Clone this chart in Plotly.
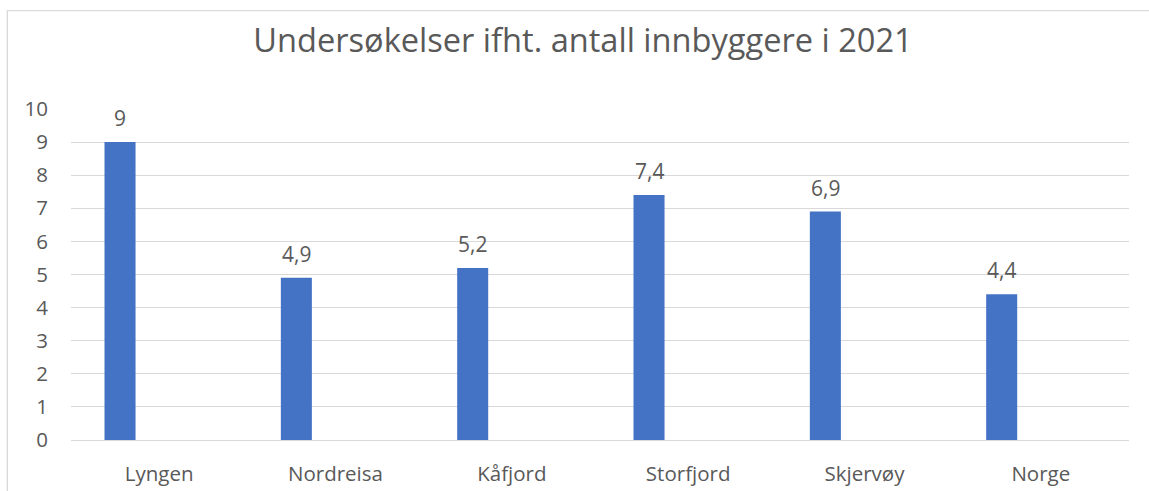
import plotly.graph_objects as go

categories = ["Lyngen", "Nordreisa", "Kåfjord", "Storfjord", "Skjervøy", "Norge"]
values = [9, 4.9, 5.2, 7.4, 6.9, 4.4]
value_labels = ["9", "4,9", "5,2", "7,4", "6,9", "4,4"]
y_ticks = list(range(0, 11))

W, H = 1149, 491
L, R, T, B = 70.7, 20.3, 109.3, 51.0
plot_w = W - L - R
plot_h = H - T - B

font_family = "Open Sans, Liberation Sans, sans-serif"
text_color = "#595959"
grid_color = "#D9D9D9"
bar_width = 0.176
bar_offset = -0.31

fig = go.Figure()
fig.add_trace(go.Bar(
    x=categories,
    y=values,
    width=bar_width,
    offset=bar_offset,
    marker=dict(color="#4472C4", line=dict(width=0)),
    hoverinfo="skip",
))

# value labels above each bar
for cat, val, lab in zip(categories, values, value_labels):
    fig.add_annotation(
        x=cat, y=val, text=lab, showarrow=False,
        xshift=(bar_offset + bar_width / 2) * plot_w / 6,
        yshift=24, yanchor="middle", xanchor="center",
        font=dict(family=font_family, size=21, color=text_color),
    )

# chart frame (light border)
fig.add_shape(
    type="rect", xref="paper", yref="paper",
    x0=(7 - L) / plot_w, x1=(W + 20 - L) / plot_w,
    y0=-(B + 20) / plot_h, y1=(H - 11 - B) / plot_h,
    line=dict(color=grid_color, width=1.3), fillcolor="rgba(0,0,0,0)", layer="below",
)

fig.update_layout(
    width=W, height=H,
    margin=dict(l=L, r=R, t=T, b=B, pad=0),
    paper_bgcolor="white", plot_bgcolor="white",
    showlegend=False,
    title=dict(
        text="Undersøkelser ifht. antall innbyggere i 2021",
        x=583 / W, xanchor="center", xref="container",
        y=1 - 41 / H, yanchor="middle", yref="container",
        font=dict(family=font_family, size=32.6, color=text_color),
    ),
    xaxis=dict(
        type="category", range=[-0.5, 5.5], automargin=False,
        showgrid=False, showline=False, zeroline=False,
        ticks="outside", ticklen=15, tickcolor="rgba(0,0,0,0)",
        tickfont=dict(family=font_family, size=20.5, color=text_color),
    ),
    yaxis=dict(
        range=[0, 10], tickvals=y_ticks, automargin=False,
        showgrid=True, gridcolor=grid_color, gridwidth=1.3,
        zeroline=True, zerolinecolor=grid_color, zerolinewidth=1.3,
        showline=False,
        ticks="outside", ticklen=18, tickcolor="rgba(0,0,0,0)",
        tickfont=dict(family=font_family, size=20.5, color=text_color),
    ),
)

fig.write_html("out.html")
